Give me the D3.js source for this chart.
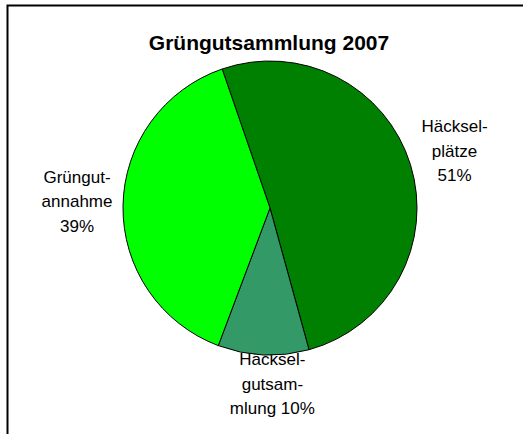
<!DOCTYPE html>
<html>
<head>
<meta charset="utf-8">
<script src="https://cdn.jsdelivr.net/npm/d3@7/dist/d3.min.js"></script>
<style>
  body { margin: 0; background: #fff; }
  text { font-family: "Liberation Sans", Arial, sans-serif; }
</style>
</head>
<body>
<script>
const width = 523;
const height = 434;

// Data (clockwise from the first slice)
const categories = ['Häckselplätze', 'Häckselgutsammlung', 'Grüngutannahme'];
const shares = [51, 10, 39];
const labelLines = [
  ['Häcksel-', 'plätze', '51%'],
  ['Häcksel-', 'gutsam-', 'mlung 10%'],
  ['Grüngut-', 'annahme', '39%']
];
const colors = ['#008000', '#339966', '#00ff00'];

const cx = 270;
const cy = 208;
const radius = 147;
const lineHeight = 24.5;
// small nudges to mimic the spreadsheet label placement
const labelNudge = [[3, -1], [11, -14], [-3, -4]];

const svg = d3.select('body')
  .append('svg')
  .attr('width', width)
  .attr('height', height);

// chart frame, runs off the right and bottom edges
svg.append('rect')
  .attr('x', 7.5)
  .attr('y', 5.5)
  .attr('width', 700)
  .attr('height', 700)
  .style('fill', 'none')
  .style('stroke', '#000')
  .style('stroke-width', 2);

svg.append('text')
  .attr('x', 269)
  .attr('y', 50)
  .attr('text-anchor', 'middle')
  .style('font-size', '21px')
  .style('font-weight', 'bold')
  .text('Grüngutsammlung 2007');

const pie = d3.pie()
  .sort(null)
  .startAngle(-19 * Math.PI / 180)
  .endAngle(341 * Math.PI / 180);

const arcs = pie(shares);

const arc = d3.arc().innerRadius(0).outerRadius(radius);
const labelArc = d3.arc().innerRadius(190).outerRadius(190);

const g = svg.append('g')
  .attr('transform', `translate(${cx},${cy})`);

// labels first, the pie sits on top of them
const labels = g.selectAll('text.label')
  .data(arcs)
  .enter()
  .append('text')
  .attr('class', 'label')
  .attr('text-anchor', 'middle')
  .style('font-size', '17px')
  .style('fill', '#000')
  .attr('transform', (d, i) => {
    const c = labelArc.centroid(d);
    return `translate(${c[0] + labelNudge[i][0]},${c[1] + labelNudge[i][1]})`;
  });

labels.selectAll('tspan')
  .data((d, i) => labelLines[i].map((t, j, a) => ({ t, j, n: a.length })))
  .enter()
  .append('tspan')
  .attr('x', 0)
  .attr('y', d => (d.j - (d.n - 1) / 2) * lineHeight + 6)
  .text(d => d.t);

g.selectAll('path')
  .data(arcs)
  .enter()
  .append('path')
  .attr('d', arc)
  .style('fill', (d, i) => colors[i])
  .style('stroke', '#000')
  .style('stroke-width', 1);
</script>
</body>
</html>
